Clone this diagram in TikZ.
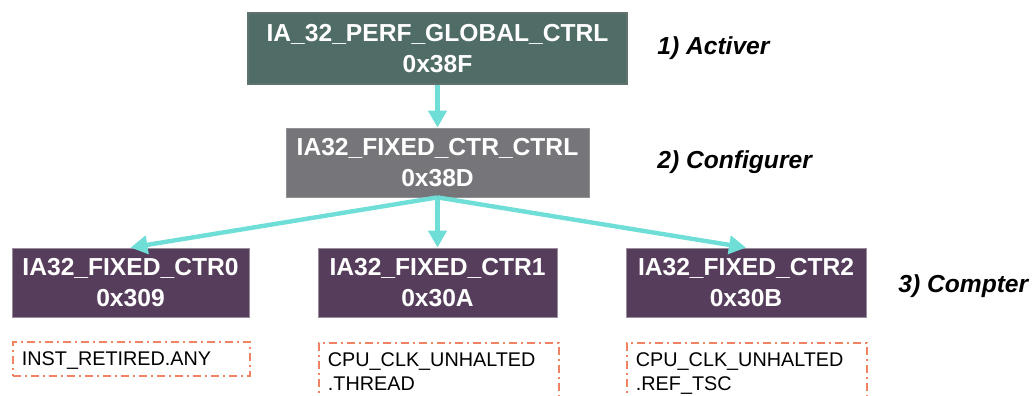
\documentclass[tikz,border=0pt]{standalone}
\usepackage{fontspec}
\setmainfont{Liberation Sans}
\usetikzlibrary{positioning,arrows.meta,calc}
\definecolor{regglobal}{RGB}{80,108,102}
\definecolor{regconf}{RGB}{118,118,122}
\definecolor{regctr}{RGB}{87,61,92}
\definecolor{flowcyan}{RGB}{110,222,215}
\definecolor{evsalmon}{RGB}{242,130,100}
\tikzset{
    every node/.style={font=\fontsize{12.3}{15.5}\selectfont},
    regbox/.style={rectangle,text=white,align=center,inner sep=0pt,
        font=\bfseries\fontsize{12.3}{15.5}\selectfont},
    globalreg/.style={regbox,fill=regglobal,draw=regglobal!70!gray,line width=0.6pt},
    confreg/.style={regbox,fill=regconf,draw=regconf!80!white,line width=0.4pt},
    ctrreg/.style={regbox,fill=regctr,draw=regctr!60!white,line width=0.4pt},
    eventbox/.style={draw=evsalmon,line width=0.9pt,dash pattern=on 4pt off 2pt on 1pt off 2pt,
        anchor=north west,align=left,inner xsep=4.5pt,inner ysep=5pt,text height=7pt,
        font=\fontsize{9.9}{12}\selectfont},
    steplabel/.style={anchor=west,inner sep=0pt,font=\bfseries\itshape\fontsize{12.3}{15}\selectfont},
    flow/.style={draw=flowcyan,line width=2.2pt,-{Triangle[width=9pt,length=8.5pt]}}
}
\begin{document}
\begin{tikzpicture}[x=0.5pt,y=-0.5pt]
\useasboundingbox (0,0) rectangle (1033,396);
% registres
\node[globalreg,minimum width=189.5pt,minimum height=35.5pt] (global) at (437.5,48.5)
    {IA\_32\_PERF\_GLOBAL\_CTRL\\0x38F};
\node[confreg,minimum width=151.5pt,minimum height=34.5pt] (fixctrl) at (437.5,162.5)
    {IA32\_FIXED\_CTR\_CTRL\\0x38D};
\node[ctrreg,minimum width=118.5pt,minimum height=34.5pt] (ctr0) at (130.5,282.5)
    {IA32\_FIXED\_CTR0\\0x309};
\node[ctrreg,minimum width=119.5pt,minimum height=34.5pt] (ctr1) at (437.5,282.5)
    {IA32\_FIXED\_CTR1\\0x30A};
\node[ctrreg,minimum width=120pt,minimum height=34.5pt] (ctr2) at (746,282.5)
    {IA32\_FIXED\_CTR2\\0x30B};
% evenements
\node[eventbox,text width=109.5pt,text depth=0pt] (ev0) at (12,341)
    {INST\_RETIRED.ANY};
\node[eventbox,text width=111pt,text depth=40pt] (ev1) at (318,342)
    {CPU\_CLK\_UNHALTED\\.THREAD};
\node[eventbox,text width=111pt,text depth=40pt] (ev2) at (626,342)
    {CPU\_CLK\_UNHALTED\\.REF\_TSC};
% etapes
\node[steplabel] (act) at (657,48) {1) Activer};
\node[steplabel] (conf) at (657,162) {2) Configurer};
\node[steplabel] (cpt) at (898,286) {3) Compter};
% fleches
\draw[flow] (global.south) -- (fixctrl.north);
\draw[flow] (fixctrl.south) -- (ctr0.north);
\draw[flow] (fixctrl.south) -- (ctr1.north);
\draw[flow] (fixctrl.south) -- (ctr2.north);
\end{tikzpicture}
\end{document}
